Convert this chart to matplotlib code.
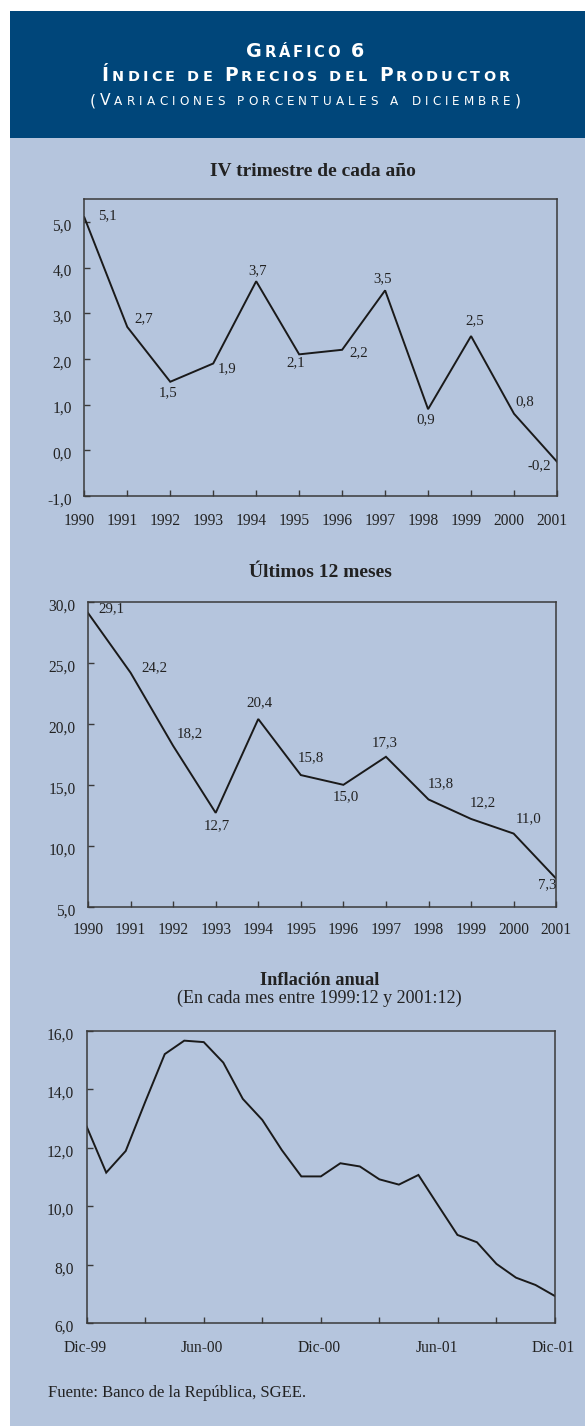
import matplotlib
matplotlib.use("Agg")
import matplotlib.pyplot as plt
import matplotlib.transforms as mtransforms
from matplotlib.patches import Rectangle
from matplotlib.ticker import FuncFormatter, FixedLocator

# ---------------- data ----------------
years = list(range(1990, 2002))
ipp_iv_trim = [5.1, 2.7, 1.5, 1.9, 3.7, 2.1, 2.2, 3.5, 0.9, 2.5, 0.8, -0.25]
ipp_iv_labels = ["5,1", "2,7", "1,5", "1,9", "3,7", "2,1", "2,2", "3,5", "0,9", "2,5", "0,8", "-0,2"]
ipp_12m = [29.1, 24.2, 18.2, 12.7, 20.4, 15.8, 15.0, 17.3, 13.8, 12.2, 11.0, 7.3]
ipp_12m_labels = ["29,1", "24,2", "18,2", "12,7", "20,4", "15,8", "15,0", "17,3", "13,8", "12,2", "11,0", "7,3"]
# monthly annual inflation, Dic-99 .. Dic-01
inflacion_mensual = [12.72, 11.15, 11.89, 13.57, 15.20, 15.66, 15.61, 14.91, 13.67, 12.95,
                     11.92, 11.02, 11.02, 11.47, 11.36, 10.92, 10.74, 11.07, 10.04, 9.02,
                     8.77, 8.03, 7.56, 7.31, 6.93]
month_tick_labels = ["Dic-99", "Jun-00", "Dic-00", "Jun-01", "Dic-01"]

title_header = ["Gráfico 6", "Índice de Precios del Productor", "(Variaciones porcentuales a diciembre)"]
title1 = "IV trimestre de cada año"
title2 = "Últimos 12 meses"
title3 = "Inflación anual"
subtitle3 = "(En cada mes entre 1999:12 y 2001:12)"
fuente = "Fuente: Banco de la República, SGEE."

# ---------------- style ----------------
W, H = 585, 1426
BG = "#b5c5dd"
HEAD = "#00467a"
FRAME = "#3a3a3a"
LINE = "#1a1a1a"
TXT = "#222222"
SERIF = ["Liberation Serif", "DejaVu Serif"]
TICK_FS = 11.2
LABEL_FS = 10.7

fig = plt.figure(figsize=(W / 100, H / 100), dpi=100)
fig.patch.set_facecolor("white")

def fx(x):
    return x / W

def fy(y):
    return 1 - y / H

fig.add_artist(Rectangle((fx(10), 0), 1 - fx(10), fy(138), transform=fig.transFigure,
                         facecolor=BG, edgecolor="none", zorder=0))
fig.add_artist(Rectangle((fx(10), fy(138)), 1 - fx(10), fy(11) - fy(138), transform=fig.transFigure,
                         facecolor=HEAD, edgecolor="none", zorder=0))

renderer = fig.canvas.get_renderer()

def small_caps(text, cx, base_y, size, weight, target_width, ratio=0.77):
    items = []
    for ch in text:
        if ch == " ":
            items.append((None, size * 0.30 * 100 / 72))
            continue
        s = size * ratio if ch.islower() else size
        t = fig.text(0, fy(base_y), ch.upper(), fontsize=s, fontweight=weight,
                     family="DejaVu Sans", color="white", ha="left", va="baseline")
        w = t.get_window_extent(renderer).width
        items.append((t, w))
    total = sum(w for _, w in items)
    track = (target_width - total) / max(len(items) - 1, 1)
    x = cx - target_width / 2
    for t, w in items:
        if t is not None:
            t.set_x(fx(x))
        x += w + track

small_caps(title_header[0], 305, 57, 13.8, "bold", 118)
small_caps(title_header[1], 305.5, 81.3, 13.4, "bold", 408)
small_caps(title_header[2], 305, 105, 11.2, "normal", 431)

fmt = FuncFormatter(lambda v, p: f"{v:.1f}".replace(".", ","))

def make_axes(l, r, t, b):
    ax = fig.add_axes([fx(l), fy(b), fx(r) - fx(l), fy(t) - fy(b)])
    ax.set_facecolor("none")
    for sp in ax.spines.values():
        sp.set_color(FRAME)
        sp.set_linewidth(1.1)
    ax.tick_params(direction="in", length=4, width=1.0, color=FRAME, labelsize=TICK_FS,
                   labelcolor=TXT)
    ax.tick_params(axis="y", pad=9)
    return ax

def finish_labels(ax, xshift_px=0, yshift_px=-2.5):
    xoff = mtransforms.ScaledTranslation(xshift_px / 100, 0, fig.dpi_scale_trans)
    yoff = mtransforms.ScaledTranslation(0, yshift_px / 100, fig.dpi_scale_trans)
    for lab in ax.get_xticklabels():
        lab.set_fontfamily(SERIF)
        lab.set_transform(lab.get_transform() + xoff)
    for lab in ax.get_yticklabels():
        lab.set_fontfamily(SERIF)
        lab.set_transform(lab.get_transform() + yoff)

# ---------- chart 1 ----------
ax1 = make_axes(84.3, 557, 199, 496)
ax1.plot(years, ipp_iv_trim, color=LINE, lw=1.4, solid_joinstyle="miter")
ax1.set_xlim(1990, 2001)
ax1.set_ylim(-1, 5.5)
ax1.set_xticks(years)
ax1.set_yticks([-1, 0, 1, 2, 3, 4, 5])
ax1.yaxis.set_major_formatter(fmt)
ax1.tick_params(axis="x", pad=12.5)
finish_labels(ax1, xshift_px=-5)
offs1 = [(22.7, -2), (16, -8), (-2.3, 11), (13.5, 5), (1, -11), (-3.7, 8), (16.6, 3), (-2, -12),
         (-2, 11), (3.5, -15), (11, -12), (-18, 4)]
for x, v, lab, (dx, dy) in zip(years, ipp_iv_trim, ipp_iv_labels, offs1):
    ax1.annotate(lab, (x, v), xytext=(dx, -dy), textcoords="offset pixels", ha="center",
                 va="center", fontsize=LABEL_FS, family=SERIF, color=TXT)
fig.text(fx(312.5), fy(176), title1, ha="center", va="baseline", fontsize=14,
         fontweight="bold", family=SERIF, color=TXT)

# ---------- chart 2 ----------
ax2 = make_axes(88, 556.2, 602, 906.7)
ax2.plot(years, ipp_12m, color=LINE, lw=1.4, solid_joinstyle="miter")
ax2.set_xlim(1990, 2001)
ax2.set_ylim(5, 30)
ax2.set_xticks(years)
ax2.set_yticks([5, 10, 15, 20, 25, 30])
ax2.yaxis.set_major_formatter(fmt)
ax2.tick_params(axis="x", pad=11)
finish_labels(ax2)
offs2 = [(23, -4), (24, -5), (17, -12), (1, 13), (1.5, -16), (10, -17), (2.5, 12), (-1, -14),
         (12, -16), (11.5, -16), (14.7, -15), (-9.4, 6)]
for x, v, lab, (dx, dy) in zip(years, ipp_12m, ipp_12m_labels, offs2):
    ax2.annotate(lab, (x, v), xytext=(dx, -dy), textcoords="offset pixels", ha="center",
                 va="center", fontsize=LABEL_FS, family=SERIF, color=TXT)
fig.text(fx(320), fy(577), title2, ha="center", va="baseline", fontsize=14,
         fontweight="bold", family=SERIF, color=TXT)

# ---------- chart 3 ----------
ax3 = make_axes(86.7, 555, 1030.7, 1323.3)
months = list(range(len(inflacion_mensual)))
ax3.plot(months, inflacion_mensual, color=LINE, lw=1.4, solid_joinstyle="miter")
ax3.set_xlim(0, len(months) - 1)
ax3.set_ylim(6, 16)
ax3.set_yticks([6, 8, 10, 12, 14, 16])
ax3.yaxis.set_major_formatter(fmt)
ax3.xaxis.set_major_locator(FixedLocator(months[::3]))

def month_fmt(v, p):
    i = int(round(v))
    return month_tick_labels[i // 6] if i % 6 == 0 else ""

ax3.xaxis.set_major_formatter(FuncFormatter(month_fmt))
ax3.tick_params(axis="x", pad=12)
finish_labels(ax3, xshift_px=-1.5)
fig.text(fx(319.5), fy(985), title3, ha="center", va="baseline", fontsize=13.2,
         fontweight="bold", family=SERIF, color=TXT)
fig.text(fx(319), fy(1003), subtitle3, ha="center", va="baseline", fontsize=13,
         family=SERIF, color=TXT)

fig.text(fx(48), fy(1397), fuente, ha="left", va="baseline", fontsize=12,
         family=SERIF, color=TXT)

fig.savefig("out.png", dpi=100, facecolor=fig.get_facecolor())
